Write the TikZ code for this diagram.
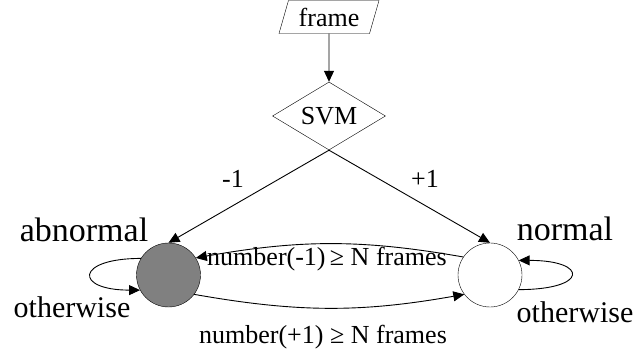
\documentclass[tikz,border=0pt]{standalone}
\usepackage{fontspec}
\setmainfont{Liberation Serif}
\usepackage{tikz}
\usetikzlibrary{arrows.meta,positioning,shapes.geometric}

\begin{document}
\begin{tikzpicture}[
    x=1pt,y=1pt,
    every node/.style={font=\fontsize{26}{28}\selectfont},
    inbox/.style={draw,trapezium,trapezium left angle=63,trapezium right angle=117,trapezium stretches body,minimum width=100pt,minimum height=33pt,inner sep=0pt},
    decide/.style={draw,diamond,aspect=1.66,minimum width=113pt,minimum height=68pt,inner sep=0pt},
    state/.style={draw,circle,minimum size=64pt,inner sep=0pt},
    lbl/.style={anchor=base,inner sep=0pt},
    big/.style={lbl,font=\fontsize{34}{36}\selectfont},
    mid/.style={lbl,font=\fontsize{30}{32}\selectfont},
    arr/.style={-{Triangle[length=11pt,width=10pt]},line width=0.9pt}
]
\useasboundingbox (0,0) rectangle (639,356);
\node[inbox] (frame) at (329,339) {frame};
\node[decide] (svm) at (329,240) {SVM};
\node[state,fill=black!50] (abn) at (168.5,81) {};
\node[state] (nor) at (490,81) {};
% state names and edge labels
\node[big] (abnname) at (84,114) {abnormal};
\node[big] (norname) at (565,115) {normal};
\node[lbl] (neg) at (233,168) {-1};
\node[lbl] (pos) at (425,168) {+1};
\node[lbl] (tonorm) at (327,91) {number(-1)\,≥ N frames};
\node[lbl] (toabn) at (323,13) {number(+1) ≥ N frames};
\node[mid] (abnloop) at (72,39) {otherwise};
\node[mid] (norloop) at (575,34) {otherwise};
\draw[arr] (frame) -- (svm);
\draw[arr] (svm.south) -- (abn.north);
\draw[arr] (svm.south) -- (nor.north);
\draw[arr] (nor.146) to[out=170,in=10] (abn.32);
\draw[arr] (abn.-37) to[out=-10,in=190] (nor.217);
\draw[arr] (abn.149) to[out=180,in=180,distance=66pt] (abn.208);
\draw[arr] (nor.-27) to[out=0,in=0,distance=70pt] (nor.27);
\end{tikzpicture}
\end{document}
